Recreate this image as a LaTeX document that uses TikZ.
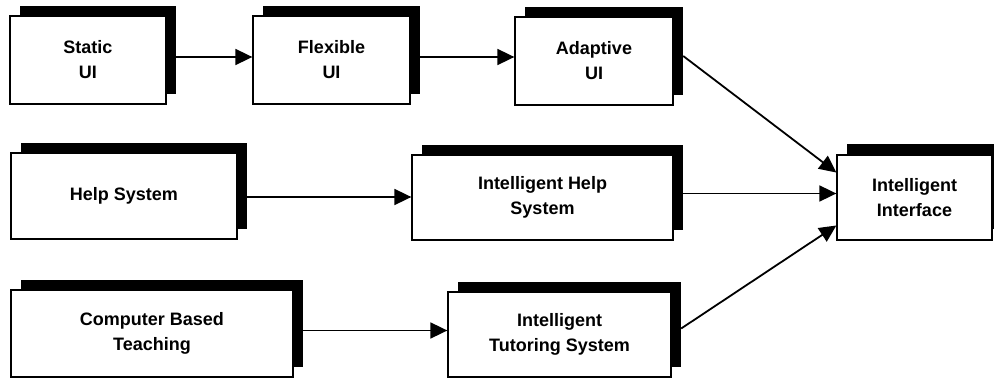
\documentclass[tikz,border=0pt]{standalone}
\usepackage{fontspec}
\setmainfont{Liberation Sans}
\usetikzlibrary{arrows.meta,calc}
\tikzset{
  box/.style={draw, fill=white, line width=1.3pt, align=center, inner sep=0pt,
    font=\fontsize{18}{25}\selectfont\bfseries},
  shade/.style={fill=black, draw=none, inner sep=0pt},
  arr/.style={line width=1.8pt, -{Triangle[length=17pt,width=16pt]}},
}
\begin{document}
\begin{tikzpicture}[x=1pt,y=1pt]
\path[use as bounding box, clip] (0,0) rectangle (994,378);
% shadows
\node[shade, minimum width=156, minimum height=88] (As) at (98,328) {};
\node[shade, minimum width=157, minimum height=88] (Bs) at (341.5,328) {};
\node[shade, minimum width=158, minimum height=88] (Cs) at (604,327) {};
\node[shade, minimum width=226, minimum height=86] (Ds) at (134,192) {};
\node[shade, minimum width=261, minimum height=85] (Es) at (552.5,190.5) {};
\node[shade, minimum width=282, minimum height=87] (Fs) at (162,54.5) {};
\node[shade, minimum width=223, minimum height=85] (Gs) at (569.5,53.5) {};
\node[shade, minimum width=155, minimum height=85] (Hs) at (924.5,191.5) {};
% boxes
\node[box, minimum width=156, minimum height=88] (A) at (88,318) {Static\\UI};
\node[box, minimum width=157, minimum height=88] (B) at (331.5,318) {Flexible\\UI};
\node[box, minimum width=158, minimum height=88] (C) at (594,317) {Adaptive\\UI};
\node[box, minimum width=226, minimum height=86] (D) at (124,182) {Help System};
\node[box, minimum width=261, minimum height=85] (E) at (542.5,180.5) {Intelligent Help\\System};
\node[box, minimum width=282, minimum height=87] (F) at (152,44.5) {Computer Based\\Teaching};
\node[box, minimum width=223, minimum height=85] (G) at (559.5,43.5) {Intelligent\\Tutoring System};
\node[box, minimum width=155, minimum height=85] (H) at (914.5,180.5) {Intelligent\\Interface};
% connector start points
\coordinate (a1) at ($(A.east -| As.east)+(0,3)$);
\coordinate (b1) at ($(B.east -| Bs.east)+(0,3)$);
\coordinate (d1) at ($(D.east -| Ds.east)+(0,-1)$);
\coordinate (f1) at ($(F.east -| Fs.east)+(0,3)$);
% connectors
\draw[arr] (a1) -- (a1 -| B.west);
\draw[arr] (b1) -- (b1 -| C.west);
\draw[arr] (d1) -- (d1 -| E.west);
\draw[arr] (f1) -- (f1 -| G.west);
\draw[arr] ($(C.east -| Cs.east)+(0,5)$) -- ($(H.west)+(0,25)$);
\draw[arr] ($(E.east -| Es.east)+(0,4)$) -- ($(H.west)+(0,4)$);
\draw[arr] ($(G.east -| Gs.east)+(0,6)$) -- ($(H.west)+(0,-28)$);
\end{tikzpicture}
\end{document}
